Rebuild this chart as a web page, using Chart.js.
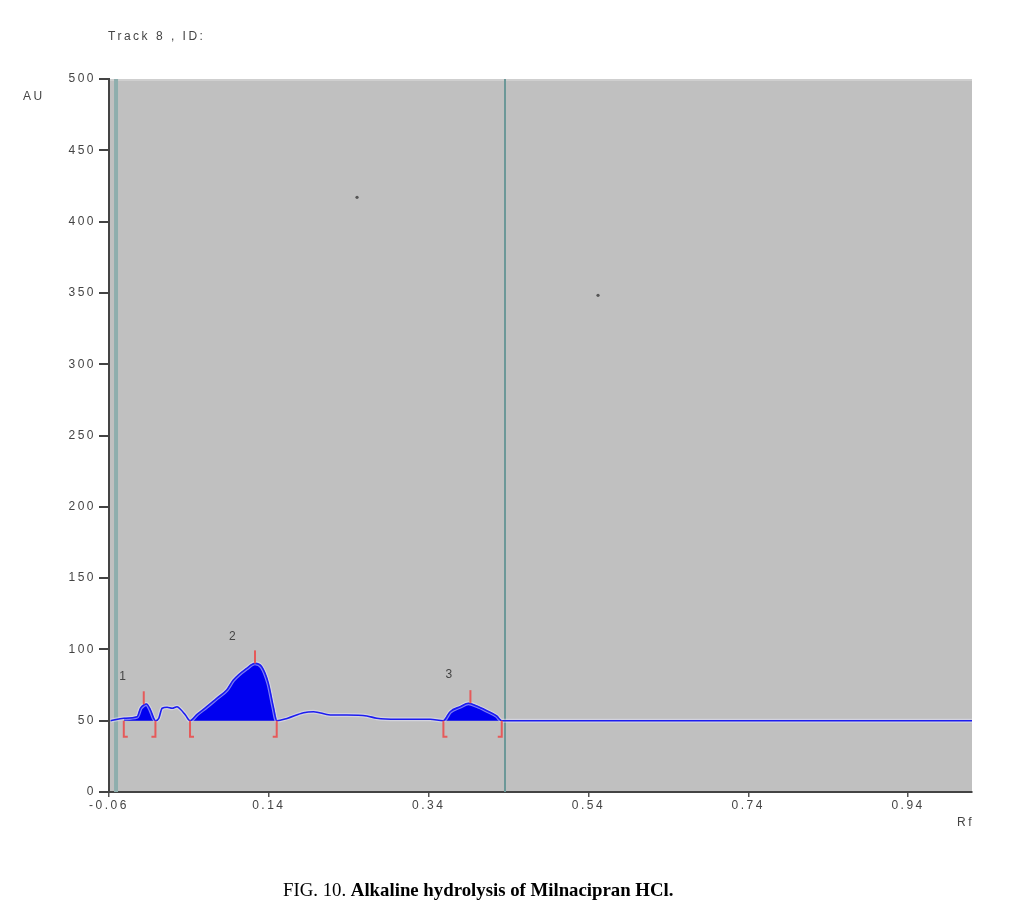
<!DOCTYPE html>
<html>
<head>
<meta charset="utf-8">
<script src="https://cdn.jsdelivr.net/npm/chart.js@4.4.1/dist/chart.umd.min.js"></script>
<style>
  body { margin: 0; background: #fff; }
  #wrap { position: relative; width: 1023px; height: 919px; }
  #caption {
    position: absolute; left: 283px; top: 880px;
    font-family: "Liberation Serif", "Times New Roman", serif;
    font-size: 18.8px; line-height: 19px; color: #000; white-space: nowrap;
  }
</style>
</head>
<body>
<div id="wrap">
  <canvas id="chart" width="1023" height="919"></canvas>
  <div id="caption">FIG. 10. <b>Alkaline hydrolysis of Milnacipran HCl.</b></div>
</div>
<script>
// densitogram trace (Rf, AU)
const traceRf = [-0.058, -0.0415, -0.0248, -0.0206, -0.0165, -0.0131, -0.0081, -0.004, -0.0019,
  0.0023, 0.0065, 0.0127, 0.019, 0.0252, 0.0294, 0.0356, 0.0414,
  0.0502, 0.0623, 0.0748, 0.0873, 0.0956, 0.1123, 0.1227, 0.1311, 0.1394, 0.1456, 0.1499,
  0.1628, 0.1835, 0.196, 0.2169, 0.2377, 0.2627, 0.2752, 0.3003, 0.3419, 0.3585,
  0.3669, 0.3794, 0.3898, 0.4003, 0.4128, 0.4252, 0.4315, 0.5, 1.02];
const traceAu = [50, 51.7, 52.8, 58.7, 61.0, 61.7, 57.5, 51.7, 50,
  51.7, 58.7, 59.4, 58.7, 59.8, 58.0, 54.0, 50,
  54.5, 59.8, 65.7, 71.5, 78.5, 86.7, 90.2, 87.8, 76.2, 59.8, 50,
  51.6, 55.6, 56.3, 54.0, 54.0, 53.3, 51.7, 51.0, 51.0, 50,
  56.3, 59.8, 62.2, 60.3, 57.0, 53.3, 50, 50, 50];

const baselineAu = 50;

// integrated peaks
const peakNames = ['1', '2', '3'];
const peakStartRf = [-0.0415, 0.0414, 0.3585];
const peakEndRf = [-0.0019, 0.1499, 0.4315];
const peakMaxRf = [-0.0165, 0.1227, 0.3923];
const peakMaxAu = [61.5, 90.2, 62.3];
const peakLabelRf = [-0.0415, 0.096, 0.3669];
const peakLabelAu = [81, 109, 82];

// start / front markers and stray points
const markerRf = [-0.0512, 0.4356];
const dotRf = [0.2504, 0.552];
const dotAu = [417, 348.3];

const xTicks = [-0.06, 0.14, 0.34, 0.54, 0.74, 0.94];
const yMin = 0, yMax = 500, yStep = 50;
const xMin = -0.06, xMax = 1.02;

const tracePts = traceRf.map((x, i) => ({ x: x, y: traceAu[i] }));

const peakSets = peakNames.map((n, i) => ({
  label: 'peak ' + n,
  data: tracePts.filter(p => p.x >= peakStartRf[i] - 1e-9 && p.x <= peakEndRf[i] + 1e-9),
  borderColor: '#0000f0',
  backgroundColor: '#0000f0',
  borderWidth: 1,
  pointRadius: 0,
  fill: { value: baselineAu },
  cubicInterpolationMode: 'monotone',
  order: 3
}));

const decor = {
  id: 'decor',
  beforeDraw(chart) {
    const ctx = chart.ctx, a = chart.chartArea;
    ctx.save();
    ctx.fillStyle = '#c0c0c0';
    ctx.fillRect(a.left, a.top, a.right - a.left, a.bottom - a.top);
    ctx.fillStyle = '#cfcfcf';
    ctx.fillRect(a.left, a.top, a.right - a.left, 2);
    ctx.restore();
    ctx.letterSpacing = '2.5px';
  },
  beforeDatasetsDraw(chart) {
    const ctx = chart.ctx, a = chart.chartArea, x = chart.scales.x;
    ctx.save();
    ctx.fillStyle = '#8eaead';
    ctx.fillRect(x.getPixelForValue(markerRf[0]) - 2, a.top, 4, a.bottom - a.top);
    ctx.strokeStyle = '#6c9898';
    ctx.lineWidth = 2;
    ctx.beginPath();
    const px = Math.round(x.getPixelForValue(markerRf[1]));
    ctx.moveTo(px, a.top);
    ctx.lineTo(px, a.bottom);
    ctx.stroke();
    ctx.restore();
  },
  afterDatasetsDraw(chart) {
    const ctx = chart.ctx, x = chart.scales.x, y = chart.scales.y;
    const by = y.getPixelForValue(baselineAu);
    ctx.save();
    ctx.strokeStyle = '#e65a5a';
    ctx.lineWidth = 2;
    peakNames.forEach((n, i) => {
      // peak maximum tick
      const mx = x.getPixelForValue(peakMaxRf[i]);
      const my = y.getPixelForValue(peakMaxAu[i]);
      ctx.beginPath();
      ctx.moveTo(mx, my);
      ctx.lineTo(mx, my - 13);
      ctx.stroke();
      // brackets at peak start and end
      const sx = x.getPixelForValue(peakStartRf[i]);
      const ex = x.getPixelForValue(peakEndRf[i]);
      ctx.beginPath();
      ctx.moveTo(sx, by);
      ctx.lineTo(sx, by + 16);
      ctx.lineTo(sx + 4, by + 16);
      ctx.moveTo(ex, by);
      ctx.lineTo(ex, by + 16);
      ctx.lineTo(ex - 4, by + 16);
      ctx.stroke();
    });
    ctx.fillStyle = '#444';
    ctx.font = '12px "Liberation Sans", Arial, sans-serif';
    ctx.textAlign = 'center';
    ctx.textBaseline = 'middle';
    peakNames.forEach((n, i) => {
      ctx.fillText(n, x.getPixelForValue(peakLabelRf[i]), y.getPixelForValue(peakLabelAu[i]));
    });
    ctx.restore();
  },
  afterDraw(chart) {
    const ctx = chart.ctx;
    ctx.save();
    ctx.fillStyle = '#444';
    ctx.font = '12px "Liberation Sans", Arial, sans-serif';
    ctx.textBaseline = 'middle';
    ctx.textAlign = 'left';
    ctx.fillText('Track 8 , ID:', 108, 37);
    ctx.fillText('AU', 23, 97);
    ctx.fillText('Rf', 957, 823);
    ctx.restore();
    ctx.letterSpacing = '0px';
  }
};

new Chart(document.getElementById('chart'), {
  type: 'line',
  data: {
    datasets: [
      ...peakSets,
      {
        label: 'halo',
        data: tracePts,
        borderColor: 'rgba(225,225,245,0.55)',
        borderWidth: 4,
        pointRadius: 0,
        fill: false,
        cubicInterpolationMode: 'monotone',
        order: 2
      },
      {
        label: 'trace',
        data: tracePts,
        borderColor: '#1c1cf0',
        borderWidth: 1.6,
        pointRadius: 0,
        fill: false,
        cubicInterpolationMode: 'monotone',
        order: 1
      },
      {
        type: 'scatter',
        label: 'dots',
        data: dotRf.map((v, i) => ({ x: v, y: dotAu[i] })),
        backgroundColor: '#555',
        borderWidth: 0,
        pointRadius: 1.6,
        order: 0
      }
    ]
  },
  options: {
    responsive: false,
    animation: false,
    layout: { padding: { left: 0, top: 79, right: 51, bottom: 97 } },
    plugins: {
      legend: { display: false },
      tooltip: { enabled: false }
    },
    scales: {
      x: {
        type: 'linear',
        min: xMin,
        max: xMax,
        afterBuildTicks: (s) => { s.ticks = xTicks.map(v => ({ value: v })); },
        afterFit: (s) => { s.height = 30; },
        grid: { drawOnChartArea: false, tickLength: 5, color: '#555', lineWidth: 1.5 },
        border: { color: '#444', width: 2 },
        ticks: {
          color: '#444',
          font: { family: '"Liberation Sans", Arial, sans-serif', size: 12 },
          padding: 1,
          maxRotation: 0,
          callback: (v) => Number(v).toFixed(2)
        }
      },
      y: {
        min: yMin,
        max: yMax,
        afterFit: (s) => { s.width = 109; },
        grid: { drawOnChartArea: false, tickLength: 10, color: '#444', lineWidth: 2 },
        border: { color: '#444', width: 2 },
        ticks: {
          stepSize: yStep,
          color: '#444',
          font: { family: '"Liberation Sans", Arial, sans-serif', size: 12 },
          padding: 3
        }
      }
    }
  },
  plugins: [decor]
});
</script>
</body>
</html>
